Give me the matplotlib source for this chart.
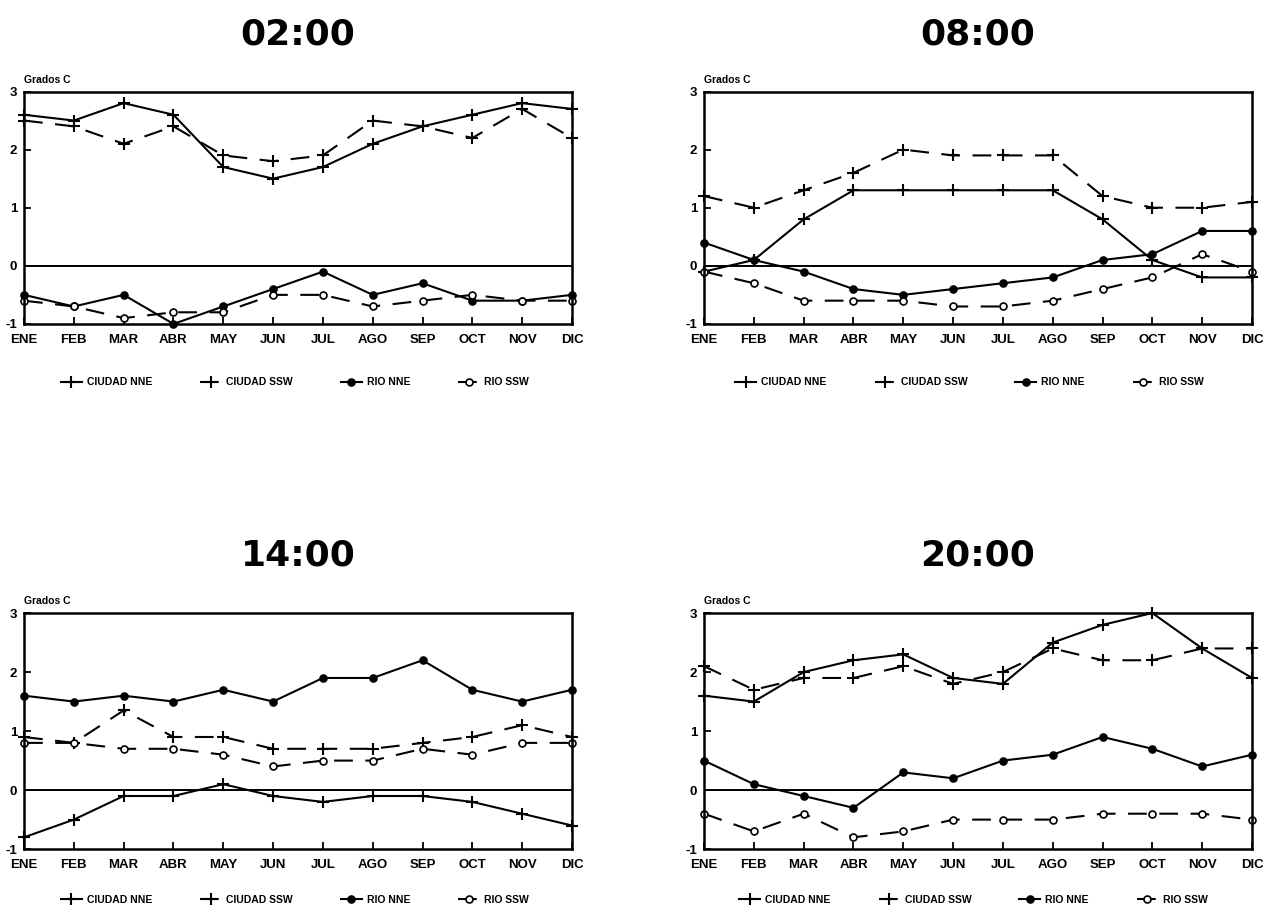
import numpy as np
import matplotlib
matplotlib.use('Agg')
import matplotlib.pyplot as plt

plt.rcParams['font.family'] = ['Liberation Sans', 'DejaVu Sans']
plt.rcParams['font.weight'] = 'bold'

months = ['ENE', 'FEB', 'MAR', 'ABR', 'MAY', 'JUN', 'JUL', 'AGO', 'SEP', 'OCT', 'NOV', 'DIC']
hours = ['02:00', '08:00', '14:00', '20:00']

## Series, one list per station and hour
ciudad_nne_02 = [2.6, 2.5, 2.8, 2.6, 1.7, 1.5, 1.7, 2.1, 2.4, 2.6, 2.8, 2.7]
ciudad_ssw_02 = [2.5, 2.4, 2.1, 2.4, 1.9, 1.8, 1.9, 2.5, 2.4, 2.2, 2.7, 2.2]
rio_nne_02 = [-0.5, -0.7, -0.5, -1.0, -0.7, -0.4, -0.1, -0.5, -0.3, -0.6, -0.6, -0.5]
rio_ssw_02 = [-0.6, -0.7, -0.9, -0.8, -0.8, -0.5, -0.5, -0.7, -0.6, -0.5, -0.6, -0.6]

ciudad_nne_08 = [-0.1, 0.1, 0.8, 1.3, 1.3, 1.3, 1.3, 1.3, 0.8, 0.1, -0.2, -0.2]
ciudad_ssw_08 = [1.2, 1.0, 1.3, 1.6, 2.0, 1.9, 1.9, 1.9, 1.2, 1.0, 1.0, 1.1]
rio_nne_08 = [0.4, 0.1, -0.1, -0.4, -0.5, -0.4, -0.3, -0.2, 0.1, 0.2, 0.6, 0.6]
rio_ssw_08 = [-0.1, -0.3, -0.6, -0.6, -0.6, -0.7, -0.7, -0.6, -0.4, -0.2, 0.2, -0.1]

ciudad_nne_14 = [-0.8, -0.5, -0.1, -0.1, 0.1, -0.1, -0.2, -0.1, -0.1, -0.2, -0.4, -0.6]
ciudad_ssw_14 = [0.9, 0.8, 1.35, 0.9, 0.9, 0.7, 0.7, 0.7, 0.8, 0.9, 1.1, 0.9]
rio_nne_14 = [1.6, 1.5, 1.6, 1.5, 1.7, 1.5, 1.9, 1.9, 2.2, 1.7, 1.5, 1.7]
rio_ssw_14 = [0.8, 0.8, 0.7, 0.7, 0.6, 0.4, 0.5, 0.5, 0.7, 0.6, 0.8, 0.8]

ciudad_nne_20 = [1.6, 1.5, 2.0, 2.2, 2.3, 1.9, 1.8, 2.5, 2.8, 3.0, 2.4, 1.9]
ciudad_ssw_20 = [2.1, 1.7, 1.9, 1.9, 2.1, 1.8, 2.0, 2.4, 2.2, 2.2, 2.4, 2.4]
rio_nne_20 = [0.5, 0.1, -0.1, -0.3, 0.3, 0.2, 0.5, 0.6, 0.9, 0.7, 0.4, 0.6]
rio_ssw_20 = [-0.4, -0.7, -0.4, -0.8, -0.7, -0.5, -0.5, -0.5, -0.4, -0.4, -0.4, -0.5]

panels = [
    (ciudad_nne_02, ciudad_ssw_02, rio_nne_02, rio_ssw_02),
    (ciudad_nne_08, ciudad_ssw_08, rio_nne_08, rio_ssw_08),
    (ciudad_nne_14, ciudad_ssw_14, rio_nne_14, rio_ssw_14),
    (ciudad_nne_20, ciudad_ssw_20, rio_nne_20, rio_ssw_20),
]
labels = ['CIUDAD NNE', 'CIUDAD SSW', 'RIO NNE', 'RIO SSW']

# axes boxes in figure fractions [left, bottom, width, height]
boxes = [
    [0.019, 0.646, 0.4335, 0.254],
    [0.557, 0.646, 0.4335, 0.254],
    [0.019, 0.072, 0.4335, 0.258],
    [0.557, 0.072, 0.4335, 0.258],
]
# legend anchors (axes fraction) for each panel
leg_anchor = [(0.05, -0.19), (0.04, -0.19), (0.05, -0.155), (0.047, -0.155)]

dash = (0, (9, 6))
x = np.arange(len(months))

fig = plt.figure(figsize=(12.64, 9.15), dpi=100)
for box, hour, anc, (cn, cs, rn, rs) in zip(boxes, hours, leg_anchor, panels):
    ax = fig.add_axes(box)
    ax.axhline(0, color='k', lw=1.4, zorder=1)
    l1, = ax.plot(x, cn, color='k', lw=1.5, marker='+', ms=8, mew=1.5, clip_on=False)
    l2, = ax.plot(x, cs, color='k', lw=1.5, ls=dash, marker='+', ms=8, mew=1.5, clip_on=False)
    l3, = ax.plot(x, rn, color='k', lw=1.5, marker='o', ms=5, mfc='k', mew=1.2, clip_on=False)
    l4, = ax.plot(x, rs, color='k', lw=1.5, ls=dash, marker='o', ms=5, mfc='white', mew=1.2, clip_on=False)
    ax.set_xlim(0, 11)
    ax.set_ylim(-1, 3)
    ax.set_xticks(x)
    ax.set_xticklabels(months)
    ax.set_yticks([-1, 0, 1, 2, 3])
    ax.set_yticklabels(['-1', '0', '1', '2', '3'])
    ax.tick_params(axis='both', direction='in', length=5, width=1.3, labelsize=9.5)
    ax.tick_params(axis='x', pad=7)
    ax.tick_params(axis='y', pad=5)
    for s in ax.spines.values():
        s.set_linewidth(1.8)
    ax.text(0, 1.03, 'Grados C', transform=ax.transAxes, fontsize=7.5, fontweight='bold', va='bottom')
    ax.set_title(hour, fontsize=26, fontweight='bold', pad=34, family='DejaVu Sans')
    ax.legend([l1, l2, l3, l4], labels, loc='upper left', bbox_to_anchor=anc,
              ncol=4, frameon=False, handlelength=2.0, columnspacing=4.6,
              handletextpad=0.5, prop={'weight': 'bold', 'size': 7.5})

fig.savefig('out.png', dpi=100)
